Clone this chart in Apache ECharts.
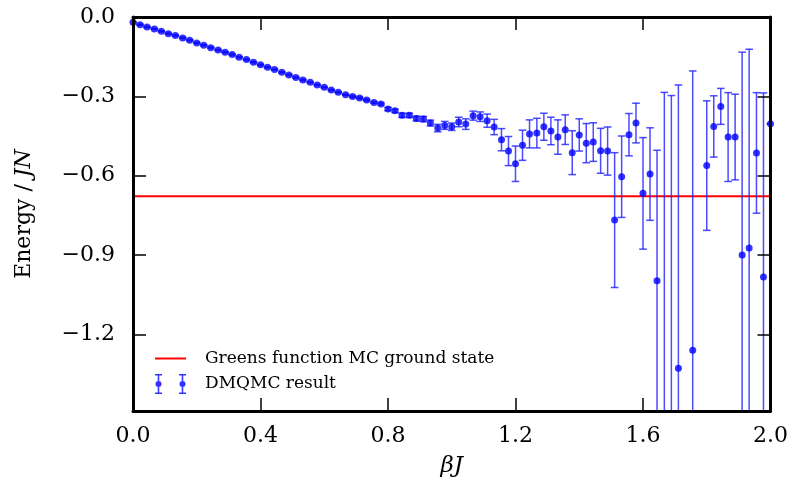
<!DOCTYPE html>
<html>
<head>
<meta charset="utf-8">
<script src="https://cdn.jsdelivr.net/npm/echarts@6/dist/echarts.min.js"></script>
<style>html,body{margin:0;padding:0;background:#fff}#chart{width:792px;height:486px}</style>
</head>
<body>
<div id="chart"></div>
<script>
// ---- data ----
const betaJ = [0.000,0.022,0.044,0.067,0.089,0.111,0.133,0.156,0.178,0.200,
  0.222,0.244,0.267,0.289,0.311,0.333,0.356,0.378,0.400,0.422,
  0.444,0.467,0.489,0.511,0.533,0.556,0.578,0.600,0.622,0.644,
  0.667,0.689,0.711,0.733,0.756,0.778,0.800,0.822,0.844,0.867,
  0.889,0.911,0.933,0.956,0.978,1.000,1.022,1.044,1.067,1.089,
  1.111,1.133,1.156,1.178,1.200,1.222,1.244,1.267,1.289,1.311,
  1.333,1.356,1.378,1.400,1.422,1.444,1.467,1.489,1.511,1.533,
  1.556,1.578,1.600,1.622,1.644,1.667,1.689,1.711,1.756,1.800,
  1.822,1.844,1.867,1.889,1.911,1.933,1.956,1.978,2.000];
const energy = [-0.020,-0.029,-0.038,-0.045,-0.054,-0.063,-0.070,-0.079,-0.088,-0.098,
  -0.107,-0.116,-0.125,-0.133,-0.142,-0.152,-0.161,-0.171,-0.181,-0.190,
  -0.199,-0.209,-0.219,-0.229,-0.238,-0.247,-0.257,-0.266,-0.276,-0.285,
  -0.294,-0.301,-0.306,-0.314,-0.323,-0.329,-0.348,-0.355,-0.372,-0.372,
  -0.384,-0.386,-0.401,-0.420,-0.410,-0.415,-0.397,-0.405,-0.373,-0.377,
  -0.392,-0.416,-0.464,-0.507,-0.555,-0.485,-0.442,-0.439,-0.415,-0.431,
  -0.454,-0.426,-0.513,-0.446,-0.477,-0.473,-0.506,-0.507,-0.768,-0.604,
  -0.445,-0.401,-0.667,-0.594,-0.997,-1.600,-1.650,-1.328,-1.260,-0.562,
  -0.414,-0.338,-0.454,-0.454,-0.900,-0.874,-0.514,-0.983,-0.404];
const energyErr = [0.002,0.002,0.002,0.002,0.002,0.002,0.002,0.002,0.002,0.002,
  0.002,0.002,0.002,0.002,0.002,0.002,0.002,0.002,0.002,0.002,
  0.002,0.002,0.002,0.002,0.002,0.002,0.002,0.002,0.002,0.002,
  0.002,0.003,0.003,0.003,0.003,0.004,0.006,0.006,0.008,0.008,
  0.009,0.010,0.011,0.014,0.015,0.014,0.018,0.020,0.017,0.018,
  0.025,0.029,0.042,0.055,0.067,0.057,0.053,0.056,0.051,0.052,
  0.065,0.056,0.083,0.061,0.074,0.073,0.085,0.091,0.255,0.154,
  0.080,0.075,0.211,0.175,0.493,1.315,1.353,1.071,1.056,0.245,
  0.116,0.068,0.168,0.162,0.767,0.752,0.228,0.696,0.000];
const groundStateEnergy = -0.678;
const xTickValues = [0.0, 0.4, 0.8, 1.2, 1.6, 2.0];
const yTickValues = [0.0, -0.3, -0.6, -0.9, -1.2];
const xRange = [0, 2.0];
const yRange = [-1.49, 0.0];

// ---- build ----
const points = betaJ.map((b, i) => [b, energy[i], energyErr[i]]);
const FONT = 'DejaVu Serif';
const fmt = v => (v < 0 ? '\u2212' : '') + Math.abs(v).toFixed(1);
const errIcon = 'path://M0,0 H7 V1.5 H0 Z M2.75,1.5 H4.25 V7 H2.75 Z M2.75,13 H4.25 V18.5 H2.75 Z M0,18.5 H7 V20 H0 Z M0.5,10 A3,3 0 1,1 6.5,10 A3,3 0 1,1 0.5,10 Z ' +
  'M24,0 H31 V1.5 H24 Z M26.75,1.5 H28.25 V7 H26.75 Z M26.75,13 H28.25 V18.5 H26.75 Z M24,18.5 H31 V20 H24 Z M24.5,10 A3,3 0 1,1 30.5,10 A3,3 0 1,1 24.5,10 Z';
const lineIcon = 'path://M0,0 H31 V2 H0 Z';

function axisCommon(extra) {
  return Object.assign({
    type: 'value', zlevel: 1, z: 10,
    splitLine: { show: false },
    axisLine: { show: true, onZero: false, lineStyle: { color: '#000', width: 3 } },
    axisTick: { show: true, inside: true, length: 13, lineStyle: { color: '#000', width: 1.5 } }
  }, extra);
}

const chart = echarts.init(document.getElementById('chart'), null, { renderer: 'canvas' });
chart.setOption({
  animation: false,
  backgroundColor: '#fff',
  grid: { left: 133, right: 21.5, top: 17, bottom: 75 },
  legend: {
    orient: 'vertical', left: 155, top: 350, padding: 0,
    itemWidth: 31, itemHeight: 20, itemGap: 7,
    textStyle: { fontFamily: FONT, fontSize: 17, color: '#000', padding: [0, 0, 0, 14] },
    data: [
      { name: 'Greens function MC ground state', icon: lineIcon },
      { name: 'DMQMC result', icon: errIcon }
    ]
  },
  xAxis: [
    axisCommon({
      position: 'bottom', min: xRange[0], max: xRange[1], interval: 0.4,
      axisLabel: { show: true, margin: 14, formatter: v => v.toFixed(1), fontFamily: FONT, fontSize: 22, color: '#000' },
      name: '\u03B2J', nameLocation: 'middle', nameGap: 44,
      nameTextStyle: { fontFamily: FONT, fontSize: 23, fontStyle: 'italic', color: '#000' }
    }),
    axisCommon({
      position: 'top', min: xRange[0], max: xRange[1], interval: 0.4,
      axisLabel: { show: false }
    })
  ],
  yAxis: [
    axisCommon({
      position: 'left', min: yRange[0], max: yRange[1],
      axisTick: { show: true, inside: true, length: 13, customValues: yTickValues, lineStyle: { color: '#000', width: 1.5 } },
      axisLabel: { show: true, margin: 18, customValues: yTickValues, formatter: fmt, fontFamily: FONT, fontSize: 22, color: '#000' },
      name: 'Energy / {i|JN}', nameLocation: 'middle', nameGap: 98,
      nameTextStyle: { fontFamily: FONT, fontSize: 22, color: '#000',
        rich: { i: { fontFamily: FONT, fontSize: 22, fontStyle: 'italic', color: '#000' } } }
    }),
    axisCommon({
      position: 'right', min: yRange[0], max: yRange[1],
      axisTick: { show: true, inside: true, length: 13, customValues: yTickValues, lineStyle: { color: '#000', width: 1.5 } },
      axisLabel: { show: false }
    })
  ],
  series: [
    {
      name: 'Greens function MC ground state', type: 'line',
      data: [[xRange[0], groundStateEnergy], [xRange[1], groundStateEnergy]],
      symbol: 'none', showSymbol: false, color: '#ff0000',
      lineStyle: { color: '#ff0000', width: 2 }, z: 3
    },
    {
      name: 'errorbars', type: 'custom', clip: true, z: 4,
      data: points, encode: { x: 0, y: 1 },
      renderItem: function (params, api) {
        const x = api.value(0), y = api.value(1), e = api.value(2);
        const top = api.coord([x, y + e]);
        const bot = api.coord([x, y - e]);
        const w = 3.8;
        const st = { stroke: 'rgba(30,30,255,0.8)', lineWidth: 1.5 };
        return {
          type: 'group', children: [
            { type: 'line', shape: { x1: top[0], y1: top[1], x2: bot[0], y2: bot[1] }, style: st },
            { type: 'line', shape: { x1: top[0] - w, y1: top[1], x2: top[0] + w, y2: top[1] }, style: st },
            { type: 'line', shape: { x1: bot[0] - w, y1: bot[1], x2: bot[0] + w, y2: bot[1] }, style: st }
          ]
        };
      }
    },
    {
      name: 'DMQMC result', type: 'scatter', z: 5,
      data: points.map(p => [p[0], p[1]]),
      symbol: 'circle', symbolSize: 7, color: '#0000ff',
      itemStyle: { color: '#0000ff' }
    }
  ]
});
</script>
</body>
</html>
